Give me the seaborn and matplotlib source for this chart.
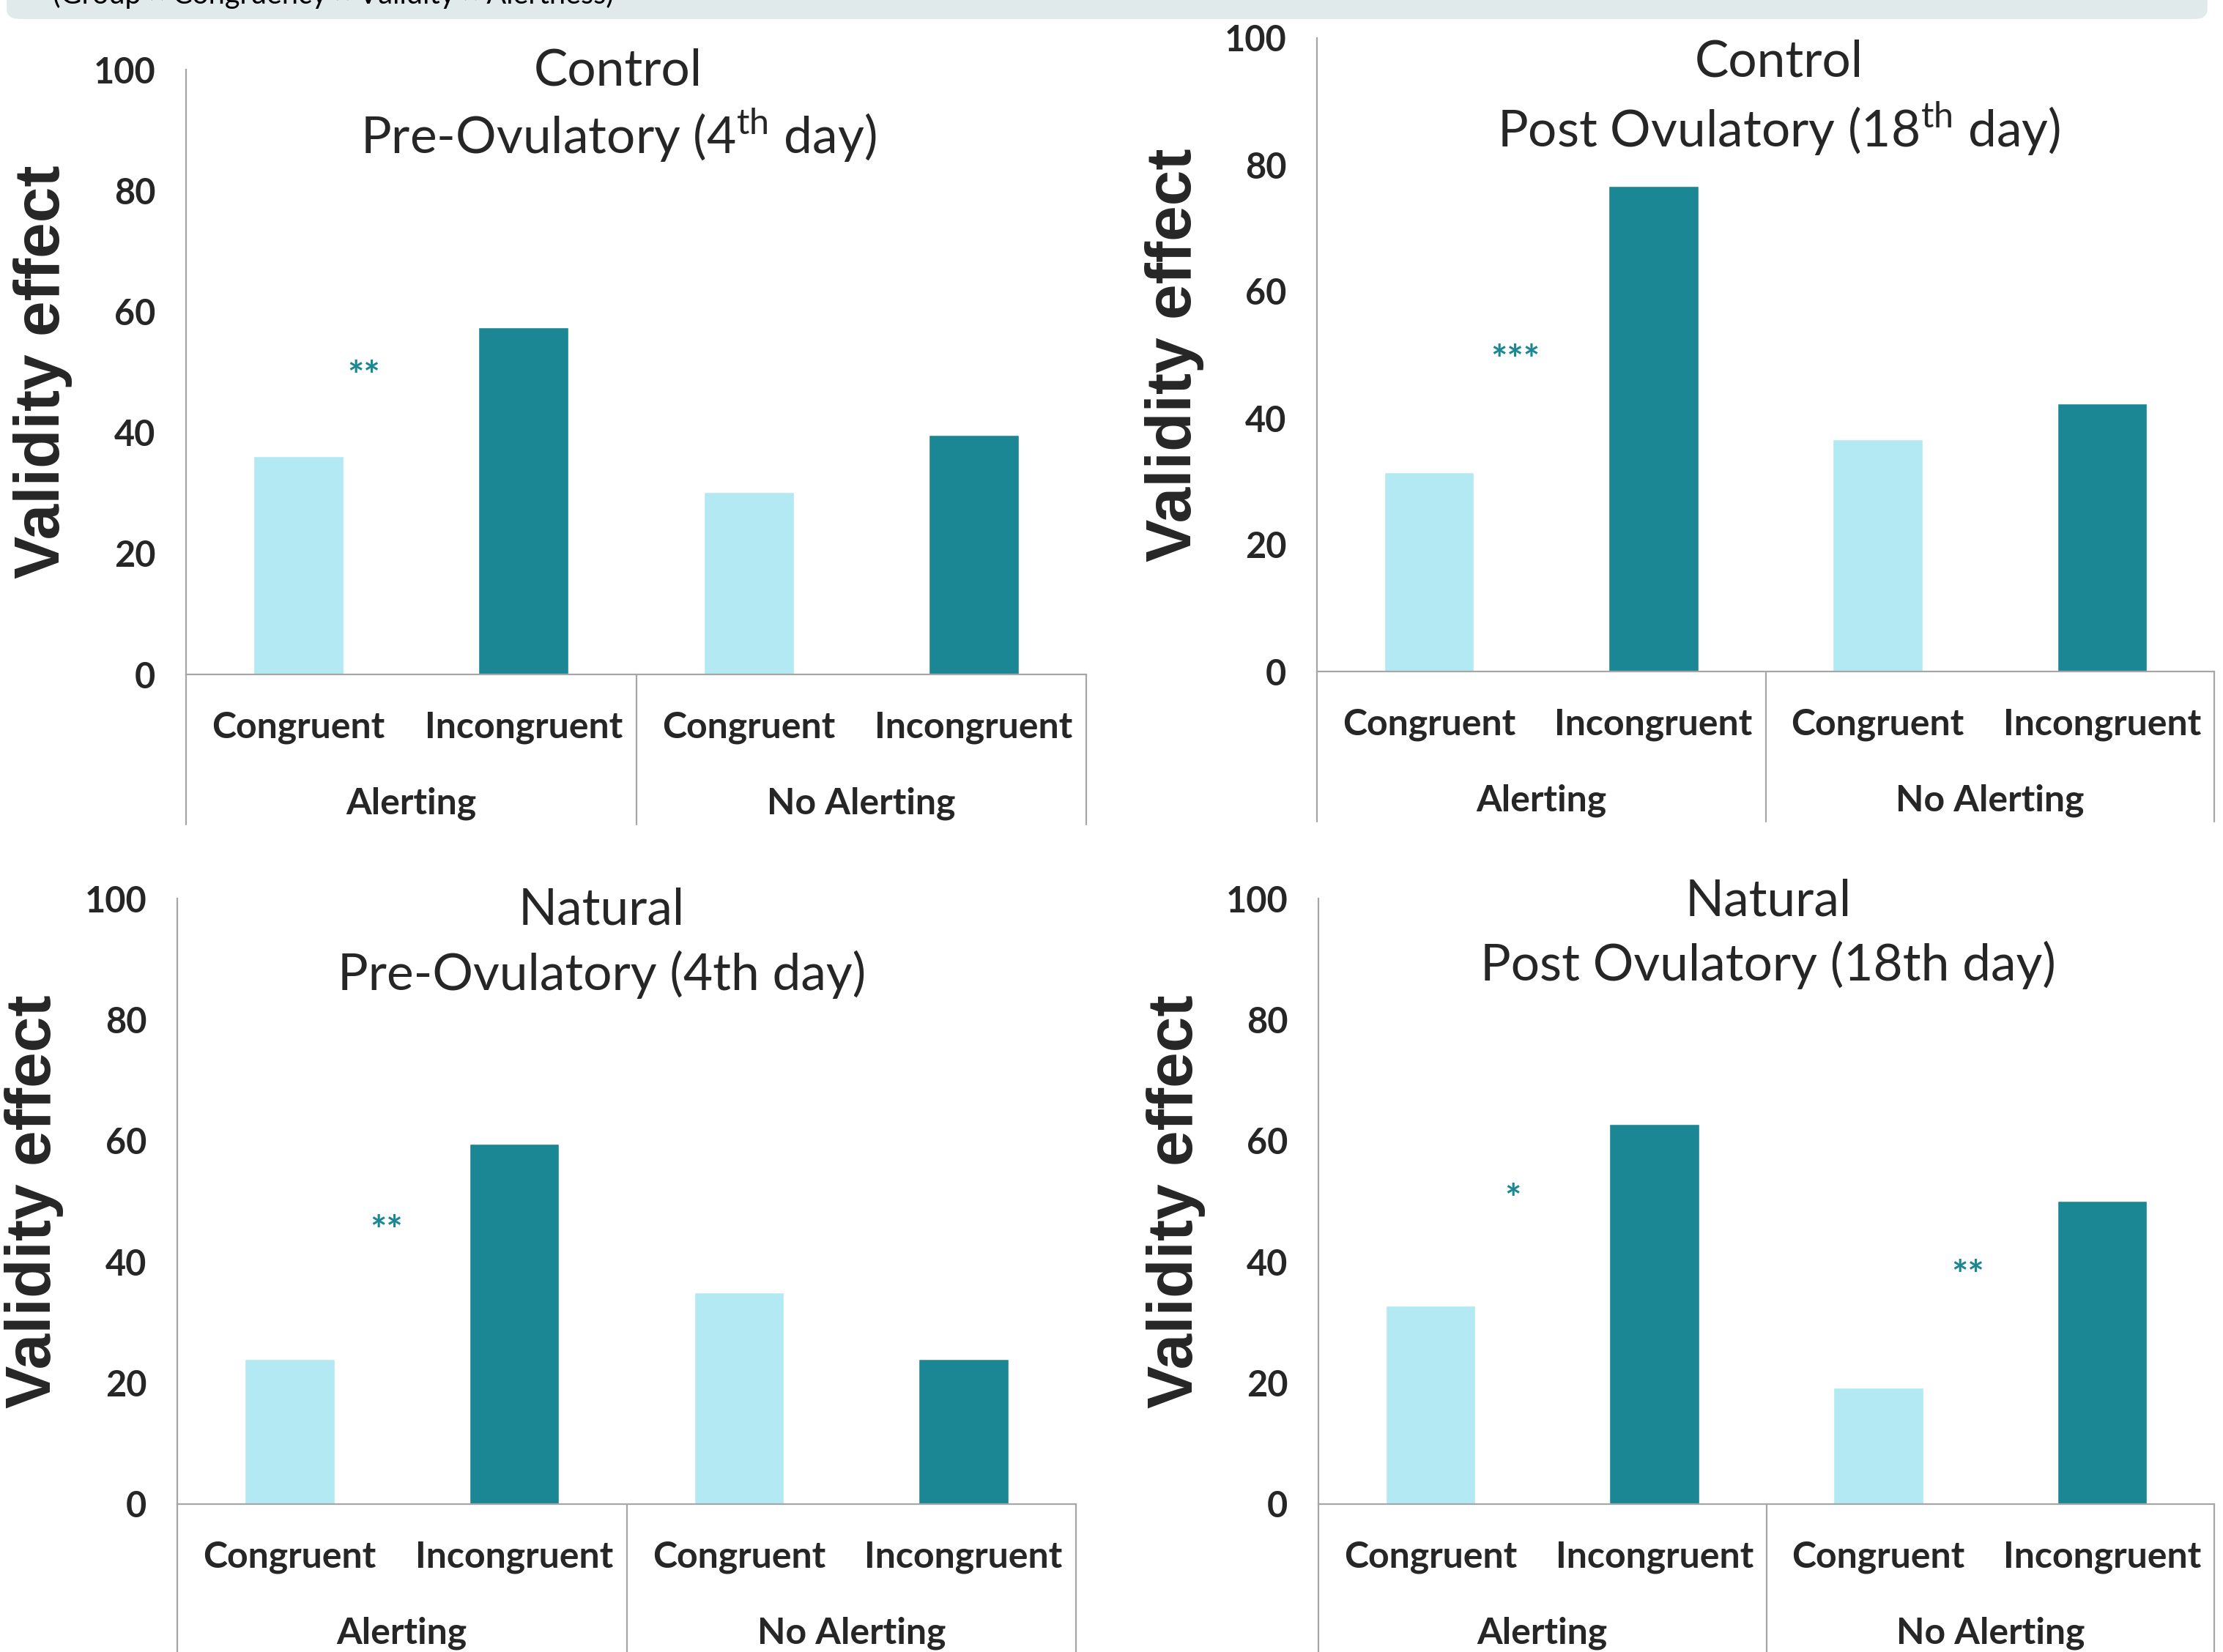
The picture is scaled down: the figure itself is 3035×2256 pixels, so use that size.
import pandas as pd
import seaborn as sns
import matplotlib.pyplot as plt
from matplotlib.patches import FancyBboxPatch
import matplotlib.transforms as mtransforms

sns.set_style("white")
plt.rcParams["font.family"] = ["Lato", "DejaVu Sans"]
plt.rcParams["mathtext.fontset"] = "custom"
plt.rcParams["mathtext.rm"] = "Lato"

conditions = ["A-Congruent", "A-Incongruent", "N-Congruent", "N-Incongruent"]
congruency = ["Congruent", "Incongruent", "Congruent", "Incongruent"]
groups = ["Alerting", "No Alerting"]

control_pre = [36.1, 57.4, 30.2, 39.6]
control_post = [31.5, 76.7, 36.7, 42.3]
natural_pre = [23.9, 59.5, 34.9, 23.9]
natural_post = [32.8, 62.8, 19.2, 50.1]

titles = [
    ("Control", r"Pre-Ovulatory (4$^{\rm th}$ day)"),
    ("Control", r"Post Ovulatory (18$^{\rm th}$ day)"),
    ("Natural", "Pre-Ovulatory (4th day)"),
    ("Natural", "Post Ovulatory (18th day)"),
]
# significance stars: (x position, y value, text)
stars = [
    [(0.29, 50.1, "**")],
    [(0.385, 50.1, "***")],
    [(0.43, 45.9, "**")],
    [(0.37, 51.1, "*"), (2.4, 38.6, "**")],
]

light = "#b3e9f2"
dark = "#1b8795"
gray = "#a6a6a6"

W, H = 3035, 2256
fig = plt.figure(figsize=(W / 100, H / 100), dpi=100)

# banner at the top (mostly cut off in the original too)
fig.patches.append(FancyBboxPatch((0.003, 1 - 26 / H), 0.99, 40 / H, boxstyle="round,pad=0,rounding_size=0.006",
                                  transform=fig.transFigure, fc="#e1eaeb", ec="none", zorder=0))
fig.text(72 / W, 1 - 5 / H, "(Group × Congruency × Validity × Alertness)", fontsize=28.5,
         ha="left", va="baseline", color="black")

positions = [
    (254, 1483, 921, 95),
    (1798, 3023, 917, 52),
    (242, 1469, 2054, 1227),
    (1800, 3023, 2054, 1227),
]
title_pos = [(0.48, 0.998, 0.892), (0.515, 0.962, 0.857), (0.472, 0.981, 0.875), (0.502, 0.995, 0.890)]
all_vals = [control_pre, control_post, natural_pre, natural_post]

for k in range(4):
    x0, x1, y0, y1 = positions[k]
    ax = fig.add_axes([x0 / W, 1 - y0 / H, (x1 - x0) / W, (y0 - y1) / H])
    df = pd.DataFrame({"cond": conditions, "cong": congruency, "val": all_vals[k]})
    sns.barplot(data=df, x="cond", y="val", hue="cong", order=conditions,
                palette={"Congruent": light, "Incongruent": dark}, width=0.4,
                legend=False, ax=ax, saturation=1)
    ax.set_xlim(-0.5, 3.5)
    ax.set_ylim(0, 100)
    ax.set_yticks(range(0, 101, 20))
    ax.tick_params(axis="y", length=0, pad=30, labelsize=35)
    for lab in ax.get_yticklabels():
        lab.set_fontweight("bold")
    ax.set_xticks(range(4))
    ax.set_xticklabels(congruency, fontsize=36, fontweight="bold")
    ax.tick_params(axis="x", length=0, pad=36)
    for s in ["top", "right"]:
        ax.spines[s].set_visible(False)
    for s in ["left", "bottom"]:
        ax.spines[s].set_color(gray)
        ax.spines[s].set_linewidth(1.6)
    ax.set_xlabel("")
    ax.set_ylabel("Validity effect", fontsize=63, fontweight="bold", family="Liberation Sans")
    ax.yaxis.label.set_verticalalignment("center")
    ax.yaxis.set_label_coords(-0.159, 0.5)

    # group brackets
    ah = y0 - y1
    trans = mtransforms.blended_transform_factory(ax.transData, ax.transAxes)
    for xb in [-0.5, 1.5, 3.5]:
        ax.plot([xb, xb], [0, -205 / ah], color=gray, lw=1.6, transform=trans, clip_on=False)
    for g, xc in zip(groups, [0.5, 2.5]):
        ax.text(xc, -176 / ah, g, transform=trans, ha="center", va="center", fontsize=36, fontweight="bold")

    tx, ty1, ty2 = title_pos[k]
    ax.text(tx, ty1, titles[k][0], transform=ax.transAxes, ha="center", va="center", fontsize=50)
    ax.text(tx, ty2, titles[k][1], transform=ax.transAxes, ha="center", va="center", fontsize=50)

    for sx, sy, st in stars[k]:
        ax.text(sx, sy - 3.0, st, ha="center", va="baseline", fontsize=38, color=dark, fontweight="bold")

fig.savefig("out.png", dpi=100)
